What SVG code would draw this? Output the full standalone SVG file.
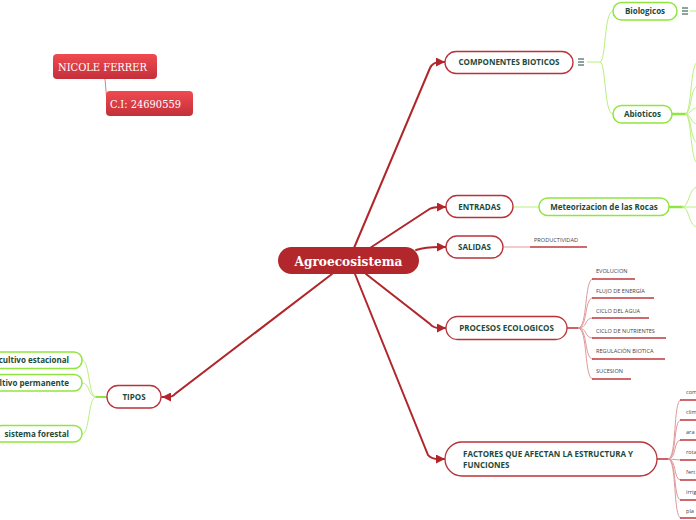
<svg xmlns="http://www.w3.org/2000/svg" width="696" height="520" viewBox="0 0 696 520">
<defs>
<linearGradient id="rg" x1="0" y1="0" x2="0" y2="1"><stop offset="0" stop-color="#f04a50"/><stop offset="1" stop-color="#c3303a"/></linearGradient>
<marker id="ar" viewBox="0 0 10 10" refX="10" refY="5" markerWidth="9" markerHeight="9" markerUnits="userSpaceOnUse" orient="auto"><path d="M0,0 L10,5 L0,10 Z" fill="#b0262b"/></marker>
</defs>
<style>
.main{fill:#fff;stroke:#b83239;stroke-width:1.3}
.gn{fill:#fff;stroke:#90e63e;stroke-width:1.5}
.nt{font-family:"Open Sans","DejaVu Sans",sans-serif;font-weight:bold;font-size:8px;fill:#1d4a3a}
.st{font-family:"Open Sans","DejaVu Sans",sans-serif;font-size:5.6px;fill:#444}
.con{fill:none;stroke:#b0262b;stroke-width:2;stroke-linecap:round}
.gl{fill:none;stroke:#b9f07e;stroke-width:1}
.gt{fill:none;stroke:#90e63e;stroke-width:2.5}
.rl{fill:none;stroke:#e0999b;stroke-width:1}
.ul{fill:none;stroke:#c0393e;stroke-width:1.6}
.ic{stroke:#1d4a3a;stroke-width:1}
.wt{font-family:"DejaVu Serif","Liberation Serif",serif;fill:#fff}
</style>
<g id="connectors">
<path class="con" d="M354,248 L430,68 Q433,62 440,62 L445,62" marker-end="url(#ar)"/>
<path class="con" d="M370,248 L428,210 Q432,207 440,207 L446,207" marker-end="url(#ar)"/>
<path class="con" d="M416,250 Q425,247 440,247 L446,247" marker-end="url(#ar)"/>
<path class="con" d="M366,274 L430,324 Q433,328 440,328 L446,328" marker-end="url(#ar)"/>
<path class="con" d="M355,274 L428,455 Q431,459 439,459 L445,459" marker-end="url(#ar)"/>
<path class="con" d="M332,274 L175,394 Q173,397 167,397 L162,397" marker-end="url(#ar)"/>
<path fill="none" stroke="#e87a80" stroke-width="1" d="M105,79 L107,103"/>
<path class="gl" d="M587,62 L600,62 C606,62 604,11 613,11 M600,62 C606,62 604,114 613,114"/>
<path class="gl" d="M690,11 L696,11"/>
<path class="gt" d="M672,114 L686,114"/>
<path class="gl" d="M685,114 C692,114 690,62 698,62 M685,114 C692,114 690,86 698,86 M685,114 C692,114 690,108 698,108 M685,114 C692,114 690,124 698,124 M685,114 C692,114 690,143 698,143 M685,114 C692,114 690,163 698,163"/>
<path class="gl" d="M513,207 L539,207"/>
<path class="gt" d="M669,207 L683,207"/>
<path class="gl" d="M682,207 C690,207 688,187 698,187 M682,207 L698,207 M682,207 C690,207 688,227 698,227"/>
<path class="rl" d="M503,247 L530,247"/>
<path class="ul" d="M530,247 L587,247"/>
<path class="ul" d="M567,328 L579,328"/>
<path class="rl" d="M578,328 C588,328 584,279 593,279 M578,328 C588,328 584,298 593,298 M578,328 C588,328 584,318 593,318 M578,328 C588,328 584,338 593,338 M578,328 C588,328 584,359 593,359 M578,328 C588,328 584,379 593,379"/>
<path class="ul" d="M592,279 L635,279 M592,298 L654,298 M592,318 L649,318 M592,338 L666,338 M592,359 L665,359 M592,379 L631,379"/>
<path class="ul" d="M657,459 L669,459"/>
<path class="rl" d="M668,459 C677,459 673,400 681,400 M668,459 C677,459 673,420 681,420 M668,459 C677,459 673,440 681,440 M668,459 L681,460 M668,459 C677,459 673,480 681,480 M668,459 C677,459 673,500 681,500 M668,459 C677,459 673,518 681,518"/>
<path class="ul" d="M680,400 L700,400 M680,420 L700,420 M680,440 L700,440 M680,460 L700,460 M680,480 L700,480 M680,500 L700,500 M680,518 L700,518"/>
<path class="gt" d="M107,397 L95,397" style="stroke-width:2"/>
<path class="gl" d="M96,397 C88,397 90,360 82,360 M96,397 C88,397 90,383 82,383 M96,397 C88,397 90,434 82,434"/>
</g>
<g id="n-center"><rect x="278" y="247" width="141" height="27" rx="13.5" fill="#b2272b"/><text class="wt" x="348.5" y="265.5" text-anchor="middle" font-size="13" font-weight="bold" textLength="108" lengthAdjust="spacingAndGlyphs">Agroecosistema</text></g>
<g id="n-nicole"><rect x="53" y="54" width="104" height="25" rx="4" fill="url(#rg)"/><text class="wt" x="58" y="70.5" font-size="10.5" textLength="89" lengthAdjust="spacingAndGlyphs">NICOLE FERRER</text></g>
<g id="n-ci"><rect x="106" y="91" width="87" height="25" rx="4" fill="url(#rg)"/><text class="wt" x="110" y="107.5" font-size="10.5" textLength="71" lengthAdjust="spacingAndGlyphs">C.I: 24690559</text></g>
<g id="n-componentes"><rect class="main" x="445" y="51.5" width="128" height="22" rx="11"/><text class="nt" x="509" y="65" text-anchor="middle">COMPONENTES BIOTICOS</text><path class="ic" d="M578,59h6M578,62h6M578,65h6"/></g>
<g id="n-entradas"><rect class="main" x="446" y="195.5" width="67" height="22" rx="11"/><text class="nt" x="479.5" y="209.5" text-anchor="middle">ENTRADAS</text></g>
<g id="n-salidas"><rect class="main" x="446" y="236" width="57" height="22" rx="11"/><text class="nt" x="474.5" y="250" text-anchor="middle">SALIDAS</text></g>
<g id="n-procesos"><rect class="main" x="446" y="316.5" width="121" height="23" rx="11.5"/><text class="nt" x="506.5" y="331" text-anchor="middle">PROCESOS ECOLOGICOS</text></g>
<g id="n-factores"><rect class="main" x="445" y="442" width="212" height="34" rx="17"/><text class="nt" x="463" y="457">FACTORES QUE AFECTAN LA ESTRUCTURA Y</text><text class="nt" x="463" y="468">FUNCIONES</text></g>
<g id="n-tipos"><rect class="main" x="107" y="385.5" width="54" height="22.5" rx="11"/><text class="nt" x="134" y="400" text-anchor="middle">TIPOS</text></g>
<g id="n-biologicos"><rect class="gn" x="613" y="2.5" width="64" height="17.5" rx="8.5"/><text class="nt" x="645" y="14" text-anchor="middle">Biologicos</text><path class="ic" d="M682,8h6M682,11h6M682,14h6"/></g>
<g id="n-abioticos"><rect class="gn" x="613" y="105.5" width="59" height="17.5" rx="8.5"/><text class="nt" x="642.5" y="117" text-anchor="middle">Abioticos</text></g>
<g id="n-meteorizacion"><rect class="gn" x="539" y="198" width="130" height="17.5" rx="8.5"/><text class="nt" x="604" y="209.5" text-anchor="middle">Meteorizacion de las Rocas</text></g>
<g id="n-productividad"><text class="st" x="534" y="242">PRODUCTIVIDAD</text></g>
<g id="n-evolucion"><text class="st" x="596" y="273">EVOLUCION</text></g>
<g id="n-flujo"><text class="st" x="596" y="292.5">FLUJO DE ENERGÍA</text></g>
<g id="n-ciclo-agua"><text class="st" x="596" y="312.5">CICLO DEL AGUA</text></g>
<g id="n-ciclo-nut"><text class="st" x="596" y="332.5">CICLO DE NUTRIENTES</text></g>
<g id="n-regulacion"><text class="st" x="596" y="353">REGULACIÓN BIOTICA</text></g>
<g id="n-sucesion"><text class="st" x="596" y="373">SUCESION</text></g>
<g id="n-f1"><text class="st" x="686" y="394">com</text></g>
<g id="n-f2"><text class="st" x="686" y="414">clim</text></g>
<g id="n-f3"><text class="st" x="686" y="434">ara</text></g>
<g id="n-f4"><text class="st" x="686" y="454">rota</text></g>
<g id="n-f5"><text class="st" x="686" y="474">fert</text></g>
<g id="n-f6"><text class="st" x="686" y="494">irrig</text></g>
<g id="n-f7"><text class="st" x="686" y="513">pla</text></g>
<g id="n-estacional"><rect class="gn" x="-12" y="352" width="94" height="16.5" rx="8"/><text class="nt" x="69" y="363" text-anchor="end">cultivo estacional</text></g>
<g id="n-permanente"><rect class="gn" x="-12" y="374.5" width="94" height="16.5" rx="8"/><text class="nt" x="69" y="386" text-anchor="end">ltivo permanente</text></g>
<g id="n-forestal"><rect class="gn" x="-6" y="425.5" width="88" height="16.5" rx="8"/><text class="nt" x="69" y="437" text-anchor="end">sistema forestal</text></g>
</svg>
